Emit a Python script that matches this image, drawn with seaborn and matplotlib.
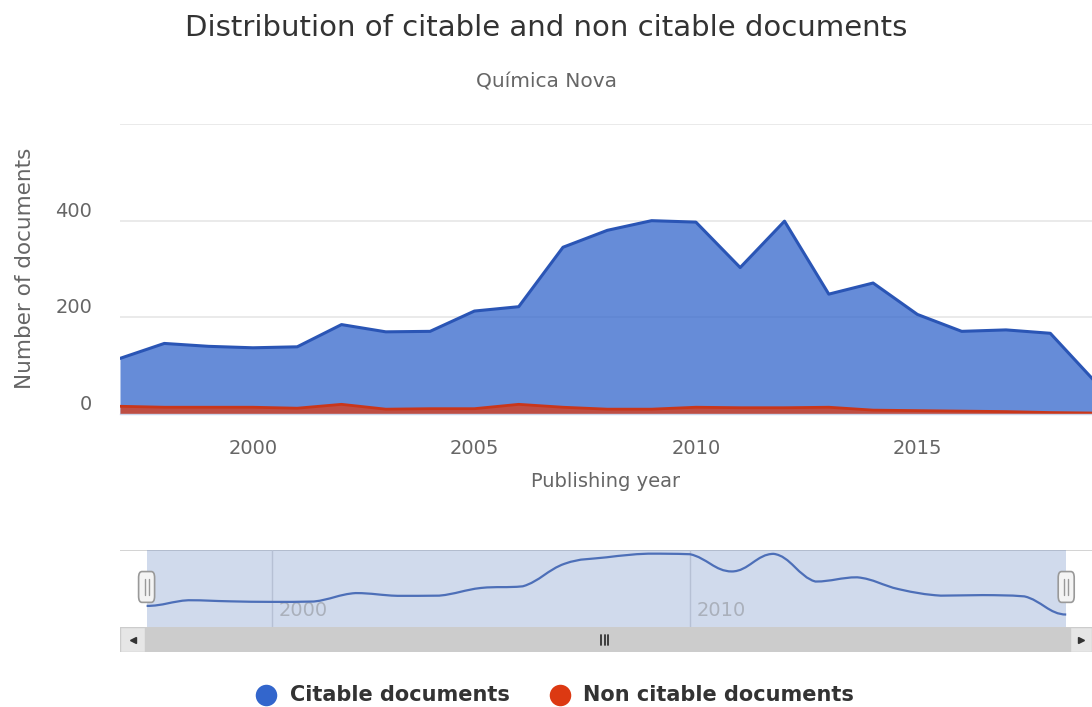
import numpy as np
import pandas as pd
import matplotlib
matplotlib.use("Agg")
import matplotlib.pyplot as plt
import seaborn as sns
from matplotlib.path import Path
from matplotlib.patches import PathPatch, Rectangle, FancyBboxPatch

# ---------------- data ----------------
years = [1997, 1998, 1999, 2000, 2001, 2002, 2003, 2004, 2005, 2006, 2007, 2008,
         2009, 2010, 2011, 2012, 2013, 2014, 2015, 2016, 2017, 2018, 2019]
citable = [115, 146, 140, 137, 139, 185, 170, 171, 213, 222, 345, 380,
           400, 397, 303, 399, 248, 271, 206, 171, 174, 167, 68]
non_citable = [16, 14, 14, 14, 12, 20, 10, 11, 11, 20, 14, 10,
               10, 14, 13, 13, 14, 8, 7, 6, 5, 3, 2]
y_ticks = [0, 200, 400, 600]
x_ticks = [2000, 2005, 2010, 2015]
nav_ticks = [2000, 2010]

title = "Distribution of citable and non citable documents"
subtitle = "Química Nova"
series_names = ["Citable documents", "Non citable documents"]

df = pd.DataFrame({"year": years, "citable": citable, "non_citable": non_citable})

# ---------------- style ----------------
sns.set_theme(style="white")
plt.rcParams["font.family"] = ["DejaVu Sans"]

BLUE = "#3366cc"
RED = "#dc3912"
TXT = "#333333"
AXT = "#666666"

W, H = 1092, 707
fig = plt.figure(figsize=(W / 100, H / 100), dpi=100)
fig.patch.set_facecolor("white")

def fx(px):
    return px / W

def fy(py):
    return 1 - py / H

# ---------------- main chart ----------------
ax = fig.add_axes([fx(120), fy(414), fx(1092) - fx(120), fy(124) - fy(414)])
ax.set_xlim(1997, 1997 + (1092 - 120) / 44.3)
ax.set_ylim(0, 600)

ax.fill_between(df["year"], 0, df["citable"], color=BLUE, alpha=0.75, lw=0, zorder=2)
sns.lineplot(data=df, x="year", y="citable", ax=ax, color="#2a55b5", lw=2.2, zorder=3)
ax.fill_between(df["year"], 0, df["non_citable"], color=RED, alpha=0.75, lw=0, zorder=4)
sns.lineplot(data=df, x="year", y="non_citable", ax=ax, color="#c9361a", lw=2.0, zorder=5)

ax.set_yticks(y_ticks)
ax.set_yticklabels([str(v) if v != 600 else "" for v in y_ticks])
ax.set_xticks(x_ticks)
ax.set_xticklabels([str(v) for v in x_ticks])
ax.yaxis.grid(True, color="#e6e6e6", lw=1.2)
ax.xaxis.grid(False)
for s in ["top", "right", "left"]:
    ax.spines[s].set_visible(False)
ax.spines["bottom"].set_color("#ccd6eb")
ax.spines["bottom"].set_linewidth(1)
ax.spines["bottom"].set_zorder(6)
ax.tick_params(axis="y", length=0, pad=20, labelsize=14, labelcolor=AXT)
ax.tick_params(axis="x", length=8, width=1, color="#ccd6eb", pad=10,
               labelsize=14, labelcolor=AXT, direction="out")
for lab in ax.get_yticklabels():
    lab.set_va("bottom")
    lab.set_ha("right")
ax.set_xlabel("Publishing year", fontsize=14, color=AXT, labelpad=10)
ax.set_ylabel("")
fig.text(fx(25), fy(268), "Number of documents", rotation=90, fontsize=15.5,
         color=AXT, ha="center", va="center")

fig.text(fx(546), fy(28), title, fontsize=21, color=TXT, ha="center", va="center")
fig.text(fx(547), fy(82), subtitle, fontsize=14.5, color=AXT, ha="center", va="center")

# ---------------- navigator ----------------
nav_px_per_year = 41.8
nav_left = 1997 - (146.6 - 120) / nav_px_per_year
nav_right = 1997 + (1092 - 146.6) / nav_px_per_year
nav = fig.add_axes([fx(120), fy(627), fx(1092) - fx(120), fy(550) - fy(627)])
nav.set_xlim(nav_left, nav_right)
nav.set_ylim(0, 420)
nav.axis("off")

nav.axhline(420, color="#cccccc", lw=1.2, zorder=1)
nav.add_patch(Rectangle((years[0], 0), years[-1] - years[0], 420,
                        facecolor="#6685c2", alpha=0.3, lw=0, zorder=2))
for t in nav_ticks:
    nav.axvline(t, color="#b6c0d4", lw=1, zorder=3)
    nav.text(t + 0.15, 0.22, str(t), transform=nav.get_xaxis_transform(),
             fontsize=14, color="#aab0bb", ha="left", va="center", zorder=3)

# spline (Highcharts-like smoothing) of citable series
xs = np.asarray(years, float)
ys = np.asarray(citable, float)
verts = [(xs[0], ys[0])]
codes = [Path.MOVETO]
n = len(xs)
slopes = np.zeros(n)
for i in range(1, n - 1):
    slopes[i] = (ys[i + 1] - ys[i - 1]) / (xs[i + 1] - xs[i - 1])
for i in range(n - 1):
    h = xs[i + 1] - xs[i]
    d = 0.4 * h
    c1x, c1y = xs[i] + d, ys[i] + slopes[i] * d
    c2x, c2y = xs[i + 1] - d, ys[i + 1] - slopes[i + 1] * d
    lo, hi = min(ys[i], ys[i + 1]), max(ys[i], ys[i + 1])
    c1y = min(max(c1y, lo), hi)
    c2y = min(max(c2y, lo), hi)
    verts += [(c1x, c1y), (c2x, c2y), (xs[i + 1], ys[i + 1])]
    codes += [Path.CURVE4, Path.CURVE4, Path.CURVE4]
nav.add_patch(PathPatch(Path(verts, codes), fill=False, edgecolor="#4d6fb8",
                        lw=1.6, zorder=4))

# handles
hw = 16 / nav_px_per_year
for hx in (years[0], years[-1]):
    nav.add_patch(FancyBboxPatch((hx - hw / 2, 0.32), hw, 0.40,
                                 boxstyle="round,pad=0,rounding_size=0.08",
                                 transform=nav.get_xaxis_transform(),
                                 facecolor="#f4f4f4", edgecolor="#999999",
                                 lw=1.2, zorder=6, mutation_aspect=1))
    for dx in (-0.05, 0.05):
        nav.plot([hx + dx, hx + dx], [0.42, 0.62], transform=nav.get_xaxis_transform(),
                 color="#999999", lw=1, zorder=7)

# ---------------- scrollbar ----------------
sb = fig.add_axes([fx(120), fy(652), fx(1092) - fx(120), fy(627) - fy(652)])
sb.set_xlim(nav_left, nav_right)
sb.set_ylim(0, 1)
sb.axis("off")
x_btn_l = nav_left + (145 - 120) / nav_px_per_year
x_btn_r = years[-1] + (1070 - 1066) / nav_px_per_year
sb.add_patch(Rectangle((nav_left, 0), x_btn_l - nav_left, 1, facecolor="#e6e6e6",
                       edgecolor="#cccccc", lw=1))
sb.add_patch(Rectangle((x_btn_l, 0), x_btn_r - x_btn_l, 1, facecolor="#cccccc", lw=0))
sb.add_patch(Rectangle((x_btn_r, 0), nav_right - x_btn_r, 1, facecolor="#e6e6e6",
                       edgecolor="#cccccc", lw=1))
mid_l = (nav_left + x_btn_l) / 2
mid_r = (x_btn_r + nav_right) / 2
sb.plot([mid_l], [0.5], marker="<", color="#333333", markersize=5)
sb.plot([mid_r], [0.5], marker=">", color="#333333", markersize=5)
mid = (x_btn_l + x_btn_r) / 2 - 3 / nav_px_per_year
for dx in (-0.09, 0, 0.09):
    sb.plot([mid + dx, mid + dx], [0.3, 0.7], color="#333333", lw=1.3)

# ---------------- legend ----------------
leg = fig.add_axes([0, 0, 1, 0.06])
leg.set_xlim(0, W)
leg.set_ylim(0, 0.06 * H)
leg.axis("off")
leg_y = H - 695
for cx, tx, col, name in [(266, 290, BLUE, series_names[0]), (560, 583, RED, series_names[1])]:
    leg.scatter([cx], [leg_y], s=240, color=col, zorder=3, lw=0)
    leg.text(tx, leg_y, name, fontsize=15, fontweight="bold", color=TXT,
             ha="left", va="center")

fig.savefig("out.png", dpi=100, facecolor="white")
